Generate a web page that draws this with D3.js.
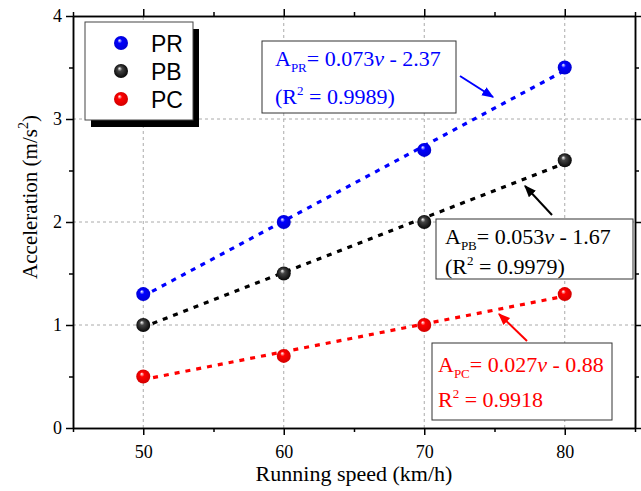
<!DOCTYPE html>
<html>
<head>
  <style>
    body { margin: 0; background: #fff; }
    svg { display: block; }
  </style>
</head>
<body>
  <svg width="641" height="491"></svg>
  <script src="https://d3js.org/d3.v7.min.js"></script>
  <script>
    // data
    const speeds = [50, 60, 70, 80];
    const prValues = [1.3, 2.0, 2.7, 3.5];
    const pbValues = [1.0, 1.5, 2.0, 2.6];
    const pcValues = [0.5, 0.7, 1.0, 1.3];
    // fitted line ends (x, y)
    const prFit = [[50, 1.28], [80, 3.47]];
    const pbFit = [[50, 0.98], [80, 2.57]];
    const pcFit = [[50, 0.47], [80, 1.28]];
    const seriesNames = ["PR", "PB", "PC"];
    const seriesColors = ["#0000ff", "#000000", "#ff0000"];
    const xTicks = [50, 60, 70, 80];
    const xMinor = [45, 55, 65, 75, 85];
    const yTicks = [0, 1, 2, 3, 4];
    const yMinor = [0.5, 1.5, 2.5, 3.5];

    const svg = d3.select("svg");
    const margin = { left: 73, right: 6, top: 16, bottom: 63 };
    const width = 641, height = 491;

    const x = d3.scaleLinear().domain([45, 85]).range([margin.left, width - margin.right]);
    const y = d3.scaleLinear().domain([0, 4]).range([height - margin.bottom, margin.top]);

    const serif = "'Liberation Serif', 'Times New Roman', serif";

    // gradients for shaded balls
    const defs = svg.append("defs");
    seriesColors.forEach((c, i) => {
      const g = defs.append("radialGradient")
        .attr("id", "ball" + i)
        .attr("cx", "50%").attr("cy", "50%").attr("r", "55%")
        .attr("fx", "38%").attr("fy", "30%");
      g.append("stop").attr("offset", "0%").attr("stop-color", "#ffffff");
      g.append("stop").attr("offset", "30%").attr("stop-color", i === 1 ? "#444" : c);
      g.append("stop").attr("offset", "100%").attr("stop-color", i === 1 ? "#000" : d3.color(c).darker(0.6));
    });
    seriesColors.forEach((c, i) => {
      defs.append("marker")
        .attr("id", "arrow" + i)
        .attr("viewBox", "0 0 10 10")
        .attr("refX", 9).attr("refY", 5)
        .attr("markerWidth", 6).attr("markerHeight", 6)
        .attr("markerUnits", "strokeWidth")
        .attr("orient", "auto")
        .append("path")
        .attr("d", "M0,1 L10,5 L0,9 Z")
        .attr("fill", c);
    });

    // grid
    const grid = svg.append("g")
      .attr("stroke", "#aaa")
      .attr("stroke-width", 1)
      .attr("stroke-dasharray", "3,3");
    grid.selectAll(".gx").data(xTicks).join("line")
      .attr("x1", d => x(d)).attr("x2", d => x(d))
      .attr("y1", y(0)).attr("y2", y(4));
    grid.selectAll(".gy").data([1, 2, 3]).join("line")
      .attr("x1", x(45)).attr("x2", x(85))
      .attr("y1", d => y(d)).attr("y2", d => y(d));

    // axes
    function styleAxis(g) {
      g.select(".domain").attr("stroke", "#000").attr("stroke-width", 1.5);
      g.selectAll(".tick line").attr("stroke", "#000").attr("stroke-width", 1.5);
      g.selectAll("text").attr("font-family", serif).attr("font-size", "18px").attr("fill", "#000");
    }
    const bottom = svg.append("g").attr("transform", `translate(0,${y(0)})`);
    bottom.call(d3.axisBottom(x).tickValues(xTicks).tickSize(7).tickSizeOuter(0).tickPadding(10)).call(styleAxis);
    svg.append("g").attr("transform", `translate(0,${y(0)})`)
      .call(d3.axisBottom(x).tickValues(xMinor).tickSize(4).tickSizeOuter(0).tickFormat("")).call(styleAxis);
    svg.append("g").attr("transform", `translate(0,${y(4)})`)
      .call(d3.axisTop(x).tickValues(xTicks).tickSize(7).tickSizeOuter(0).tickFormat("")).call(styleAxis);
    svg.append("g").attr("transform", `translate(0,${y(4)})`)
      .call(d3.axisTop(x).tickValues(xMinor).tickSize(4).tickSizeOuter(0).tickFormat("")).call(styleAxis);

    svg.append("g").attr("transform", `translate(${x(45)},0)`)
      .call(d3.axisLeft(y).tickValues(yTicks).tickSize(7).tickSizeOuter(0).tickPadding(4).tickFormat(d3.format("d"))).call(styleAxis);
    svg.append("g").attr("transform", `translate(${x(45)},0)`)
      .call(d3.axisLeft(y).tickValues(yMinor).tickSize(4).tickSizeOuter(0).tickFormat("")).call(styleAxis);
    svg.append("g").attr("transform", `translate(${x(85)},0)`)
      .call(d3.axisRight(y).tickValues(yTicks).tickSize(7).tickSizeOuter(0).tickFormat("")).call(styleAxis);
    svg.append("g").attr("transform", `translate(${x(85)},0)`)
      .call(d3.axisRight(y).tickValues(yMinor).tickSize(4).tickSizeOuter(0).tickFormat("")).call(styleAxis);

    // axis titles
    svg.append("text")
      .attr("x", (x(45) + x(85)) / 2).attr("y", 481)
      .attr("text-anchor", "middle")
      .attr("font-family", serif).attr("font-size", "22px")
      .text("Running speed (km/h)");
    const yl = svg.append("text")
      .attr("transform", "translate(37,197) rotate(-90)")
      .attr("text-anchor", "middle")
      .attr("font-family", serif).attr("font-size", "21px");
    yl.append("tspan").text("Acceleration (m/s");
    yl.append("tspan").attr("font-size", "14px").attr("dy", -9).text("2");
    yl.append("tspan").attr("dy", 9).text(")");

    // fit lines
    const fits = [prFit, pbFit, pcFit];
    const line = d3.line().x(d => x(d[0])).y(d => y(d[1]));
    fits.forEach((f, i) => {
      svg.append("path")
        .attr("d", line(f))
        .attr("fill", "none")
        .attr("stroke", seriesColors[i])
        .attr("stroke-width", 3.2)
        .attr("stroke-dasharray", "5,6")
        .attr("stroke-dashoffset", -10);
    });

    // points
    const series = [prValues, pbValues, pcValues];
    series.forEach((vals, i) => {
      svg.append("g").selectAll("circle")
        .data(vals)
        .join("circle")
        .attr("cx", (d, j) => x(speeds[j]))
        .attr("cy", d => y(d))
        .attr("r", 7)
        .attr("fill", `url(#ball${i})`);
    });

    // legend
    const legend = svg.append("g").attr("transform", "translate(85,22)");
    legend.append("rect").attr("x", 6).attr("y", 7).attr("width", 108).attr("height", 98).attr("fill", "#000");
    legend.append("rect").attr("width", 108).attr("height", 98)
      .attr("fill", "#fff").attr("stroke", "#444").attr("stroke-width", 1);
    seriesNames.forEach((n, i) => {
      legend.append("circle").attr("cx", 36).attr("cy", 21 + i * 28).attr("r", 7).attr("fill", `url(#ball${i})`);
      legend.append("text").attr("x", 66).attr("y", 30 + i * 28)
        .attr("font-family", "'Liberation Sans', Arial, sans-serif").attr("font-size", "23px")
        .text(n);
    });

    // annotations
    const notes = [
      { box: [262, 41, 194, 72], tx: 275, b1: 66, b2: 104, sub: "PR", eq: ["0.073", " - 2.37"], r2: "0.9989", paren: true, arrow: [460, 76, 493, 97] },
      { box: [436, 219, 197, 60], tx: 445, b1: 244, b2: 274, sub: "PB", eq: ["0.053", " - 1.67"], r2: "0.9979", paren: true, arrow: [552, 215, 525, 186] },
      { box: [432, 343, 180, 77], tx: 438, b1: 372, b2: 407, sub: "PC", eq: ["0.027", " - 0.88"], r2: "0.9918", paren: false, arrow: [527, 341, 499, 314] }
    ];
    notes.forEach((n, i) => {
      const c = seriesColors[i];
      const g = svg.append("g");
      g.append("rect")
        .attr("x", n.box[0]).attr("y", n.box[1]).attr("width", n.box[2]).attr("height", n.box[3])
        .attr("fill", "#fff").attr("stroke", "#333").attr("stroke-width", 1);
      const t1 = g.append("text").attr("x", n.tx).attr("y", n.b1)
        .attr("font-family", serif).attr("font-size", "22px").attr("fill", c);
      t1.append("tspan").text("A");
      t1.append("tspan").attr("font-size", "13px").attr("dy", 6).text(n.sub);
      t1.append("tspan").attr("dy", -6).text("= " + n.eq[0]);
      t1.append("tspan").attr("font-style", "italic").text("v");
      t1.append("tspan").text(n.eq[1]);
      const t2 = g.append("text").attr("x", n.tx).attr("y", n.b2)
        .attr("font-family", serif).attr("font-size", "22px").attr("fill", c);
      t2.append("tspan").text(n.paren ? "(R" : "R");
      t2.append("tspan").attr("font-size", "13px").attr("dy", -9).text("2");
      t2.append("tspan").attr("dy", 9).text(" = " + n.r2 + (n.paren ? ")" : ""));
      g.append("line")
        .attr("x1", n.arrow[0]).attr("y1", n.arrow[1]).attr("x2", n.arrow[2]).attr("y2", n.arrow[3])
        .attr("stroke", c).attr("stroke-width", 2)
        .attr("marker-end", `url(#arrow${i})`);
    });
  </script>
</body>
</html>
